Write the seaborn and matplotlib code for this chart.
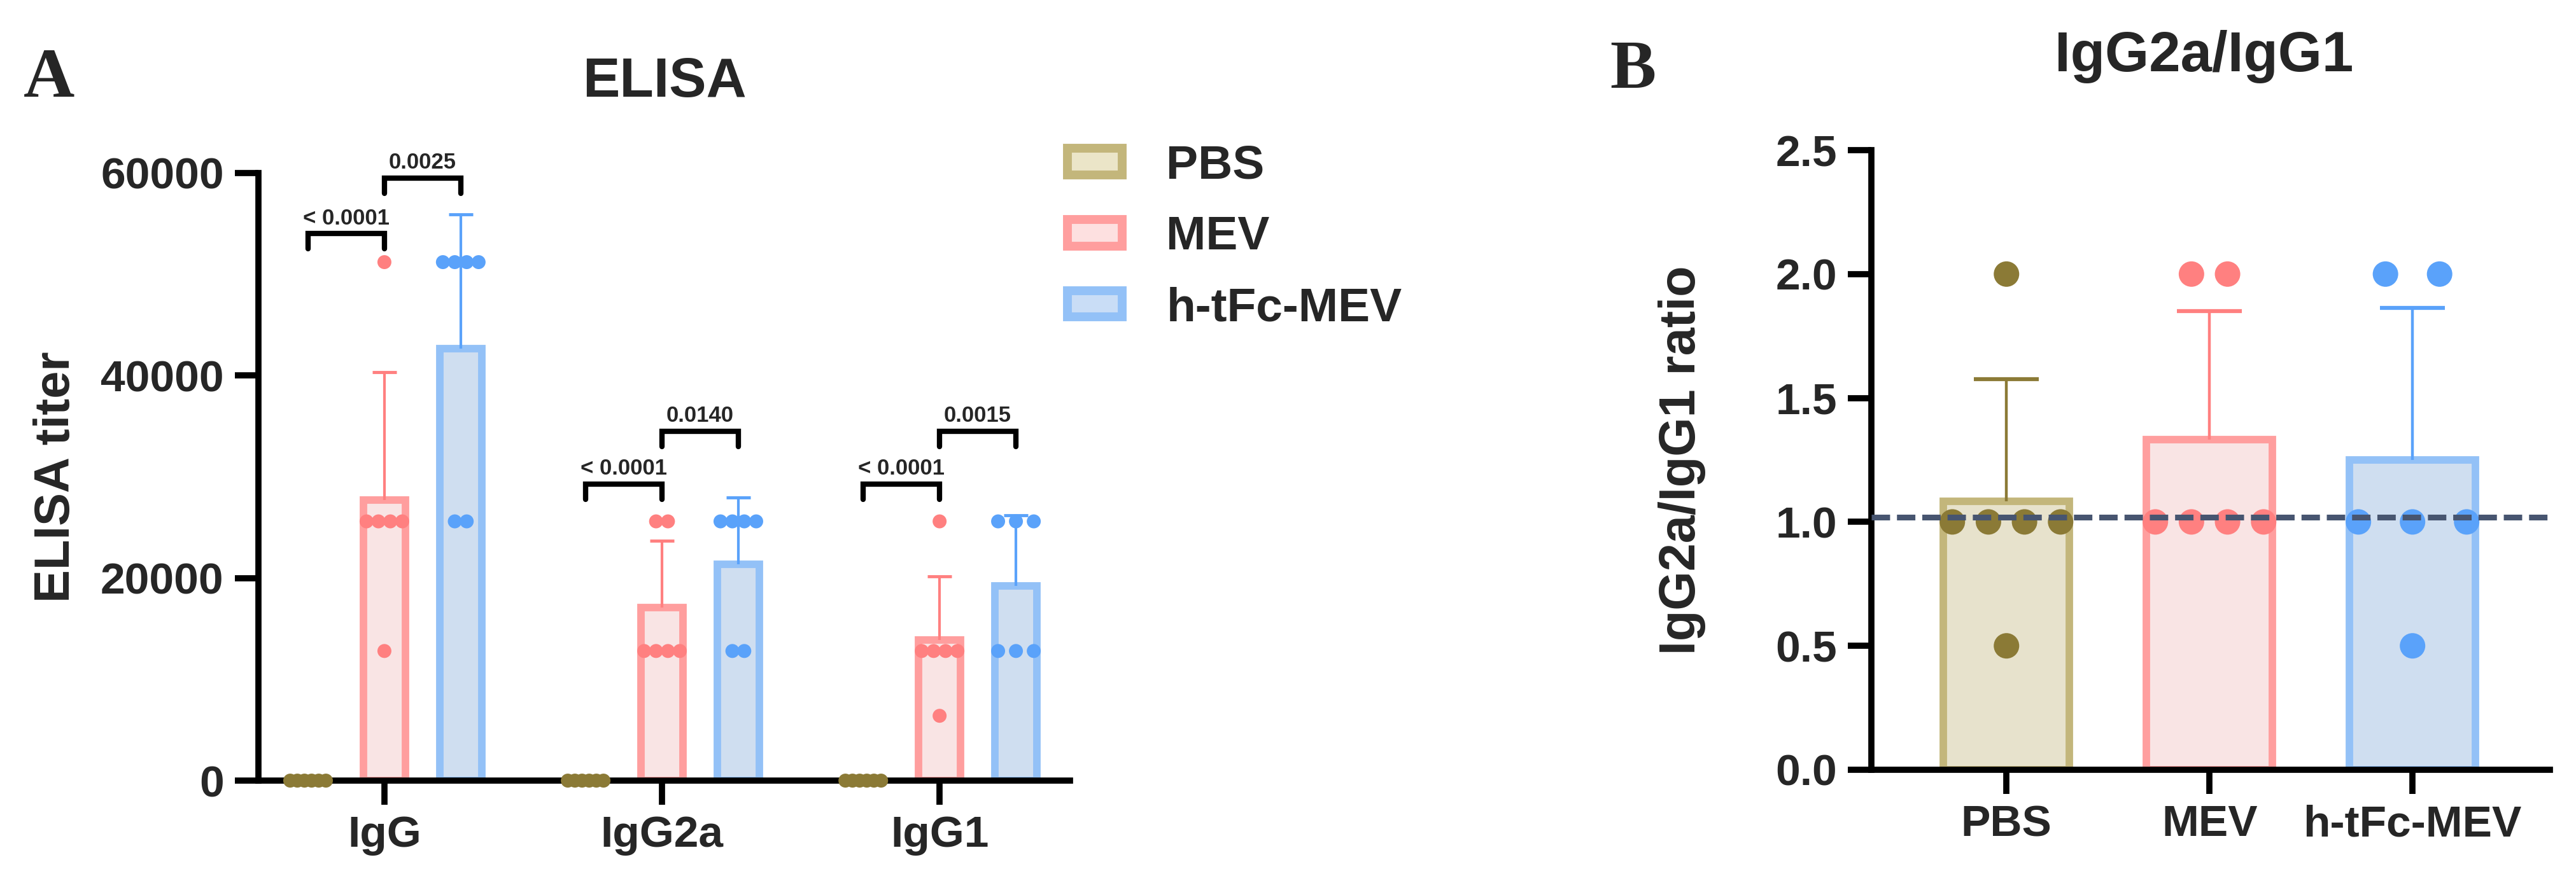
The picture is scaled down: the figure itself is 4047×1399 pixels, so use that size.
import numpy as np
import pandas as pd
import seaborn as sns
import matplotlib.pyplot as plt
from matplotlib.patches import Patch

# groupes et isotypes
groups = ['PBS', 'MEV', 'h-tFc-MEV']
isotypes = ['IgG', 'IgG2a', 'IgG1']

# titres ELISA par souris
igg_pbs = [0, 0, 0, 0, 0, 0]
igg_mev = [51200, 25600, 25600, 25600, 25600, 12800]
igg_htfc = [51200, 51200, 51200, 51200, 25600, 25600]
igg2a_pbs = [0, 0, 0, 0, 0, 0]
igg2a_mev = [25600, 25600, 12800, 12800, 12800, 12800]
igg2a_htfc = [25600, 25600, 25600, 25600, 12800, 12800]
igg1_pbs = [0, 0, 0, 0, 0, 0]
igg1_mev = [25600, 12800, 12800, 12800, 12800, 6400]
igg1_htfc = [25600, 25600, 25600, 12800, 12800, 12800]

# rapport IgG2a/IgG1 par souris
ratio_pbs = [2, 1, 1, 1, 1, 0.5]
ratio_mev = [2, 2, 1, 1, 1, 1]
ratio_htfc = [2, 2, 1, 1, 1, 0.5]
ratio_ref = 1.02

# p-values (PBS vs MEV, MEV vs h-tFc-MEV) pour chaque isotype
pvals = ['< 0.0001', '0.0025', '< 0.0001', '0.0140', '< 0.0001', '0.0015']

# couleurs
fills = ['#EBE5C8', '#FDE0E0', '#C9DDF6']
edges = ['#C3B67B', '#FF9E9E', '#93C1F7']
dots = ['#8B7A36', '#FF8080', '#5AA2FA']

# tableaux longs
elisa_vals = {
    ('IgG', 'PBS'): igg_pbs, ('IgG', 'MEV'): igg_mev, ('IgG', 'h-tFc-MEV'): igg_htfc,
    ('IgG2a', 'PBS'): igg2a_pbs, ('IgG2a', 'MEV'): igg2a_mev, ('IgG2a', 'h-tFc-MEV'): igg2a_htfc,
    ('IgG1', 'PBS'): igg1_pbs, ('IgG1', 'MEV'): igg1_mev, ('IgG1', 'h-tFc-MEV'): igg1_htfc,
}
rows = [(iso, g, v) for (iso, g), vals in elisa_vals.items() for v in vals]
elisa = pd.DataFrame(rows, columns=['iso', 'grp', 'titer'])

ratio_vals = {'PBS': ratio_pbs, 'MEV': ratio_mev, 'h-tFc-MEV': ratio_htfc}
ratio = pd.DataFrame([(g, v) for g, vals in ratio_vals.items() for v in vals],
                     columns=['grp', 'ratio'])


def spread(vals, width):
    # ecarte les points identiques de facon symetrique (comme Prism)
    vals = np.asarray(vals, float)
    uniq, counts = np.unique(vals, return_counts=True)
    step = width / max(counts.max() - 1, 1)
    off = np.zeros(len(vals))
    for v in uniq:
        idx = np.where(vals == v)[0]
        off[idx] = (np.arange(len(idx)) - (len(idx) - 1) / 2) * step
    return off


def upper_err(ax, x, vals, color, lw, cap, capw):
    # barre d'erreur SD vers le haut seulement
    m, sd = np.mean(vals), np.std(vals, ddof=1)
    if sd == 0:
        return
    eb = ax.errorbar(x, m, yerr=[[0], [sd]], fmt='none', ecolor=color,
                     elinewidth=lw, capsize=cap, capthick=capw, zorder=3)
    for c in eb[1]:
        if np.allclose(c.get_ydata(), m):
            c.set_visible(False)


sns.set_theme(style='ticks')
plt.rcParams['font.family'] = ['Liberation Sans', 'DejaVu Sans']
plt.rcParams['font.weight'] = 'bold'
plt.rcParams['axes.labelweight'] = 'bold'

fig = plt.figure(figsize=(40.47, 13.99), dpi=100)

# ---------- A : ELISA ----------
ax1 = fig.add_axes([0.1003, 0.1229, 0.3151, 0.6827])
sns.barplot(data=elisa, x='iso', y='titer', hue='grp', order=isotypes, hue_order=groups,
            palette=fills, errorbar=None, width=0.825, gap=0.45, linewidth=8.5,
            legend=False, ax=ax1)
bar_conts = list(ax1.containers)

for j, cont in enumerate(bar_conts):
    for i, bar in enumerate(cont):
        bar.set_edgecolor(edges[j])
        bar.set_zorder(2)
        vals = elisa_vals[(isotypes[i], groups[j])]
        xc = bar.get_x() + bar.get_width() / 2
        upper_err(ax1, xc, vals, dots[j], 3, 14, 3.5)
        sns.scatterplot(x=xc + spread(vals, 0.85 * bar.get_width()), y=vals, color=dots[j],
                        s=250, edgecolor='none', zorder=4, clip_on=False, ax=ax1)

# crochets de significativite
bracket_y = [(54000, 59500), (29300, 34500), (29300, 34500)]
leg = 1500
for i in range(3):
    xs = [bar_conts[j][i].get_x() + bar_conts[j][i].get_width() / 2 for j in range(3)]
    for k in range(2):
        y = bracket_y[i][k]
        x1, x2 = xs[k], xs[k + 1]
        ax1.plot([x1, x1, x2, x2], [y - leg, y, y, y - leg], color='black', lw=6,
                 clip_on=False, solid_joinstyle='miter', zorder=5)
        ax1.text((x1 + x2) / 2, y + 500, pvals[2 * i + k], ha='center', va='bottom',
                 fontsize=25, fontweight='bold')

ax1.set_xlim(-0.454, 2.47)
ax1.set_ylim(0, 60000)
ax1.set_yticks([0, 20000, 40000, 60000])
ax1.set_xlabel('')
ax1.set_ylabel('ELISA titer', fontsize=56)
ax1.yaxis.set_label_coords(-0.22, 0.5)
ax1.text(0.5, 1.1257, 'ELISA', transform=ax1.transAxes, ha='center', va='baseline',
         fontsize=63, fontweight='bold')

handles = [Patch(facecolor=fills[j], edgecolor=edges[j], linewidth=10, label=groups[j])
           for j in range(3)]
fig.legend(handles=handles, loc='upper left', bbox_to_anchor=(0.4144, 0.838), frameon=False,
           fontsize=54, handlelength=1.15, handleheight=0.48, handletextpad=0.92,
           labelspacing=0.57, borderpad=0, borderaxespad=0)

# ---------- B : IgG2a/IgG1 ----------
ax2 = fig.add_axes([0.7265, 0.1351, 0.2634, 0.6962])
sns.barplot(data=ratio, x='grp', y='ratio', hue='grp', order=groups, hue_order=groups,
            palette=fills, errorbar=None, width=0.62, linewidth=8.5, legend=False, ax=ax2)

for bar in list(ax2.patches):
    xc = bar.get_x() + bar.get_width() / 2
    j = int(round(xc))
    bar.set_edgecolor(edges[j])
    bar.set_zorder(2)
    vals = ratio_vals[groups[j]]
    upper_err(ax2, xc, vals, dots[j], 3.2, 37, 4.5)
    sns.scatterplot(x=xc + spread(vals, 0.86 * bar.get_width()), y=vals, color=dots[j],
                    s=830, edgecolor='none', zorder=4, clip_on=False, ax=ax2)

ax2.axhline(ratio_ref, color='#475570', lw=6.5, dashes=(3.2, 1.2), zorder=6)

ax2.set_xlim(-0.665, 2.677)
ax2.set_ylim(0, 2.5)
ax2.set_yticks([0, 0.5, 1.0, 1.5, 2.0, 2.5])
ax2.yaxis.set_major_formatter(plt.FormatStrFormatter('%.1f'))
ax2.set_xlabel('')
ax2.set_ylabel('IgG2a/IgG1 ratio', fontsize=57)
ax2.yaxis.set_label_coords(-0.244, 0.5)
ax2.text(0.49, 1.127, 'IgG2a/IgG1', transform=ax2.transAxes, ha='center', va='baseline',
         fontsize=64, fontweight='bold')

for ax in (ax1, ax2):
    sns.despine(ax=ax)
    for s in ('left', 'bottom'):
        ax.spines[s].set_linewidth(7)
        ax.spines[s].set_color('black')
    ax.tick_params(axis='both', length=27, width=7, color='black', labelsize=50, pad=12)
    for lab in ax.get_xticklabels() + ax.get_yticklabels():
        lab.set_fontweight('bold')

# lettres des panneaux
fig.text(0.019, 0.8914, 'A', fontsize=80, fontweight='bold', ha='center', va='baseline',
         family=['Liberation Serif', 'DejaVu Serif'])
fig.text(0.634, 0.9014, 'B', fontsize=78, fontweight='bold', ha='center', va='baseline',
         family=['Liberation Serif', 'DejaVu Serif'])

fig.savefig('out.png', dpi=100)
